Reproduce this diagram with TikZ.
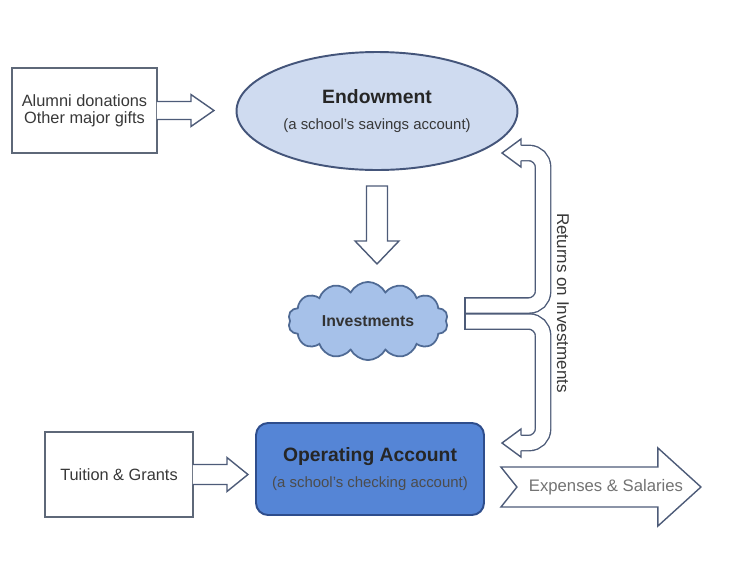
\documentclass[tikz,border=0pt]{standalone}
\usepackage{fontspec}
\setmainfont{Liberation Sans}
\usepackage{xcolor}
\usetikzlibrary{calc, shapes.geometric, shapes.symbols}

\definecolor{boxedge}{HTML}{5E6878}
\definecolor{arrowedge}{HTML}{4D5B78}
\definecolor{endowfill}{HTML}{CFDBF0}
\definecolor{endowedge}{HTML}{44557A}
\definecolor{cloudfill}{HTML}{A6C1E9}
\definecolor{cloudedge}{HTML}{4F6A94}
\definecolor{opfill}{HTML}{5585D6}
\definecolor{opedge}{HTML}{2E4D8C}
\definecolor{textgray}{HTML}{383838}

\begin{document}
\begin{tikzpicture}[x=0.02cm, y=-0.02cm,
        % Define styles for the boxes and the fat arrows
        plainbox/.style={draw=boxedge, line width=1.1pt, fill=white, minimum width=2.9cm, minimum height=1.7cm,
            align=center, text=textgray, font=\fontsize{9.3}{9.6}\selectfont},
        fatarrow/.style={draw=arrowedge, line width=0.8pt, fill=white, line join=miter},
        band/.style={draw=arrowedge, line width=0.8pt, double=white, double distance=0.28cm, rounded corners=0.28cm}]

        \useasboundingbox (0,0) rectangle (747,562);

        % 1. The sources, accounts and the cloud
        \node[plainbox] (alumni) at (84.5,110.5) {Alumni donations\\Other major gifts};
        \node[ellipse, draw=endowedge, fill=endowfill, line width=1.1pt, minimum width=5.62cm, minimum height=2.36cm,
            inner sep=0pt, align=center, text=textgray] (endow) at (377,111)
            {{\fontsize{11}{13}\selectfont\bfseries\color{black!85} Endowment}\\[3.3pt]{\fontsize{8.5}{10}\selectfont (a school's savings account)}};
        \node[cloud, cloud puffs=14, cloud puff arc=125, aspect=2.1, draw=cloudedge, fill=cloudfill, line width=1pt,
            minimum width=3.2cm, minimum height=1.56cm, inner sep=0pt, font=\fontsize{9}{11}\selectfont\bfseries,
            text=black!80] (invest) at (368,321) {Investments};
        \node[rectangle, rounded corners=0.24cm, draw=opedge, fill=opfill, line width=1.1pt, minimum width=4.56cm,
            minimum height=1.84cm, align=center, text=black!85] (operating) at (370,469)
            {{\fontsize{11}{13}\selectfont\bfseries Operating Account}\\[3.3pt]{\fontsize{8.5}{10}\selectfont\color{black!70} (a school's checking account)}};
        \node[plainbox, minimum width=2.96cm] (tuition) at (119,474.5) {Tuition \& Grants};

        % 2. Straight fat arrows
        \coordinate (alutip) at ($(alumni.east)+(56,0)$);
        \draw[fatarrow] ($(alumni.east)+(-1,-9)$) -- ($(alutip)+(-23,-9)$) -- ($(alutip)+(-23,-16)$) -- (alutip)
            -- ($(alutip)+(-23,16)$) -- ($(alutip)+(-23,9)$) -- ($(alumni.east)+(-1,9)$);

        \coordinate (tuitip) at ($(tuition.east)+(54,0)$);
        \draw[fatarrow] ($(tuition.east)+(-1,-10)$) -- ($(tuitip)+(-21,-10)$) -- ($(tuitip)+(-21,-17)$) -- (tuitip)
            -- ($(tuitip)+(-21,17)$) -- ($(tuitip)+(-21,10)$) -- ($(tuition.east)+(-1,10)$);

        \coordinate (dtail) at ($(endow.south)+(0,15)$);
        \coordinate (dtip) at ($(endow.south)+(0,93)$);
        \draw[fatarrow] ($(dtail)+(-10.5,0)$) -- ($(dtip)+(-10.5,-23)$) -- ($(dtip)+(-22,-23)$) -- (dtip)
            -- ($(dtip)+(22,-23)$) -- ($(dtip)+(10.5,-23)$) -- ($(dtail)+(10.5,0)$) -- cycle;

        % 3. Expenses arrow with a notched tail
        \coordinate (exptail) at ($(operating.east)+(16,18)$);
        \coordinate (exptip) at ($(exptail)+(200,0)$);
        \draw[fatarrow] ($(exptail)+(0,-20)$) -- ($(exptip)+(-43,-20)$) -- ($(exptip)+(-43,-39)$) -- (exptip)
            -- ($(exptip)+(-43,39)$) -- ($(exptip)+(-43,20)$) -- ($(exptail)+(0,20)$) -- ($(exptail)+(16,0)$) -- cycle;
        \node[font=\fontsize{9.5}{11}\selectfont, text=black!55] (expenses) at ($(exptail)+(105,0)$) {Expenses \& Salaries};

        % 4. Returns on investments: split band back to both accounts
        \coordinate (retup) at (465,305.5);
        \coordinate (retdown) at (465,321.5);
        \coordinate (uptip) at (502,153);
        \coordinate (downtip) at (502,443);
        \draw[band] (retup) -- (543,305.5) -- (543,153) -- ($(uptip)+(19,0)$);
        \draw[band] (retdown) -- (543,321.5) -- (543,443) -- ($(downtip)+(19,0)$);
        \draw[draw=arrowedge, line width=0.8pt] (465,297.1) -- (465,329.9);
        \draw[fatarrow] ($(uptip)+(19,-7.7)$) -- ($(uptip)+(19,-14)$) -- (uptip) -- ($(uptip)+(19,14)$) -- ($(uptip)+(19,7.7)$);
        \draw[fatarrow] ($(downtip)+(19,-7.7)$) -- ($(downtip)+(19,-14)$) -- (downtip) -- ($(downtip)+(19,14)$) -- ($(downtip)+(19,7.7)$);
        \node[rotate=-90, font=\fontsize{9.7}{11}\selectfont, text=textgray] (returns) at (563,303) {Returns on Investments};

\end{tikzpicture}
\end{document}
